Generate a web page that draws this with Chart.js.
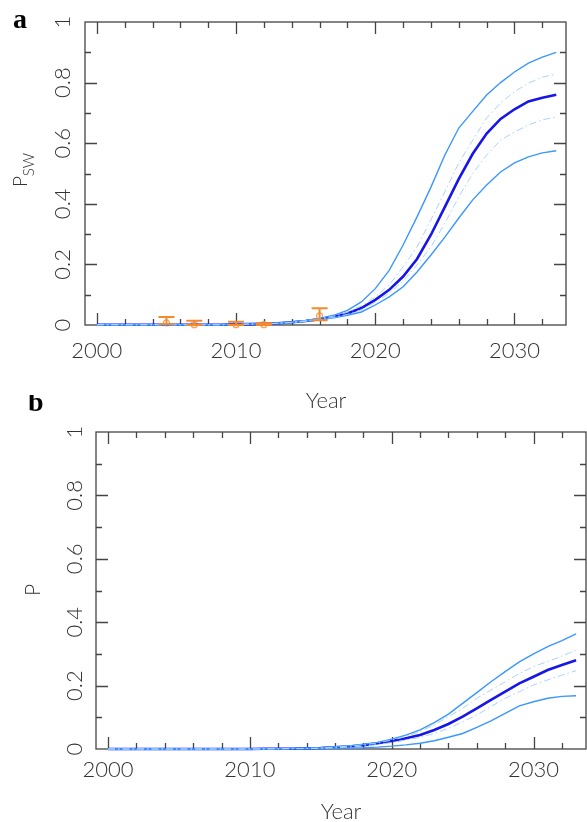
<!DOCTYPE html>
<html>
<head>
<meta charset="utf-8">
<script src="https://cdn.jsdelivr.net/npm/chart.js@4.4.1/dist/chart.umd.min.js"></script>
<style>
  body { margin: 0; background: #fff; }
  .wrap { position: relative; width: 587px; height: 822px; }
  canvas { position: absolute; left: 0; }
  #chartA { top: 0; }
  #chartB { top: 395px; }
</style>
</head>
<body>
<div class="wrap">
  <canvas id="chartA" width="587" height="415"></canvas>
  <canvas id="chartB" width="587" height="427"></canvas>
</div>
<script>
// years used by all model curves
const years = [2000, 2001, 2002, 2003, 2004, 2005, 2006, 2007, 2008, 2009,
  2010, 2011, 2012, 2013, 2014, 2015, 2016, 2017, 2018, 2019,
  2020, 2021, 2022, 2023, 2024, 2025, 2026, 2027, 2028, 2029,
  2030, 2031, 2032, 2033];

// panel a: P_SW
const aMedian = [0.001, 0.001, 0.001, 0.001, 0.001, 0.001, 0.001, 0.001, 0.001, 0.001,
  0.002, 0.003, 0.004, 0.006, 0.009, 0.013, 0.019, 0.027, 0.038, 0.056,
  0.083, 0.116, 0.16, 0.218, 0.298, 0.39, 0.482, 0.565, 0.632, 0.68,
  0.712, 0.738, 0.75, 0.76];
const aUpper = [0.001, 0.001, 0.001, 0.001, 0.001, 0.001, 0.001, 0.001, 0.001, 0.001,
  0.002, 0.003, 0.005, 0.007, 0.01, 0.015, 0.022, 0.032, 0.048, 0.076,
  0.12, 0.18, 0.264, 0.357, 0.455, 0.561, 0.65, 0.705, 0.759, 0.8,
  0.835, 0.864, 0.884, 0.9];
const aLower = [0.001, 0.001, 0.001, 0.001, 0.001, 0.001, 0.001, 0.001, 0.001, 0.001,
  0.002, 0.003, 0.004, 0.005, 0.008, 0.012, 0.017, 0.024, 0.032, 0.043,
  0.066, 0.093, 0.126, 0.175, 0.231, 0.29, 0.353, 0.413, 0.462, 0.505,
  0.535, 0.555, 0.568, 0.575];
const aUpperInner = [0.001, 0.001, 0.001, 0.001, 0.001, 0.001, 0.001, 0.001, 0.001, 0.001,
  0.002, 0.003, 0.004, 0.006, 0.009, 0.014, 0.02, 0.029, 0.042, 0.063,
  0.093, 0.132, 0.192, 0.258, 0.347, 0.44, 0.535, 0.61, 0.683, 0.733,
  0.77, 0.798, 0.818, 0.828];
const aLowerInner = [0.001, 0.001, 0.001, 0.001, 0.001, 0.001, 0.001, 0.001, 0.001, 0.001,
  0.002, 0.003, 0.004, 0.005, 0.008, 0.012, 0.018, 0.025, 0.035, 0.05,
  0.075, 0.105, 0.145, 0.198, 0.258, 0.336, 0.423, 0.5, 0.561, 0.61,
  0.637, 0.66, 0.677, 0.687];

// observed estimates with error bars (panel a)
const obsYears = [2005, 2007, 2010, 2012, 2016];
const obsValue = [0.007, 0.001, 0.001, 0.001, 0.03];
const obsLow = [0.003, 0.0, 0.0, 0.0, 0.016];
const obsHigh = [0.026, 0.014, 0.011, 0.006, 0.055];

// panel b: P
const bMedian = [0, 0, 0, 0, 0, 0, 0, 0, 0, 0,
  0, 0.001, 0.001, 0.001, 0.002, 0.003, 0.005, 0.008, 0.012, 0.018,
  0.025, 0.034, 0.044, 0.06, 0.079, 0.102, 0.128, 0.155, 0.181, 0.207,
  0.228, 0.249, 0.265, 0.28];
const bUpper = [0, 0, 0, 0, 0, 0, 0, 0, 0, 0,
  0, 0.001, 0.001, 0.002, 0.003, 0.004, 0.007, 0.01, 0.015, 0.021,
  0.031, 0.044, 0.06, 0.083, 0.11, 0.144, 0.178, 0.212, 0.244, 0.275,
  0.3, 0.323, 0.342, 0.363];
const bLower = [0, 0, 0, 0, 0, 0, 0, 0, 0, 0,
  0, 0, 0, 0.001, 0.001, 0.001, 0.002, 0.003, 0.004, 0.006,
  0.009, 0.013, 0.018, 0.026, 0.037, 0.049, 0.068, 0.089, 0.112, 0.136,
  0.149, 0.16, 0.166, 0.168];
const bUpperInner = [0, 0, 0, 0, 0, 0, 0, 0, 0, 0,
  0, 0.001, 0.001, 0.001, 0.002, 0.003, 0.006, 0.009, 0.013, 0.019,
  0.028, 0.039, 0.055, 0.076, 0.102, 0.128, 0.16, 0.186, 0.212, 0.238,
  0.26, 0.276, 0.293, 0.312];
const bLowerInner = [0, 0, 0, 0, 0, 0, 0, 0, 0, 0,
  0, 0, 0.001, 0.001, 0.001, 0.002, 0.004, 0.006, 0.009, 0.014,
  0.02, 0.028, 0.037, 0.049, 0.065, 0.086, 0.107, 0.134, 0.16, 0.181,
  0.202, 0.218, 0.233, 0.247];

// axis ticks
const xTickLabels = [2000, 2010, 2020, 2030];
const yTickValues = [0, 0.2, 0.4, 0.6, 0.8, 1];
const yTickLabels = ['0', '0.2', '0.4', '0.6', '0.8', '1'];

const LABEL_FONT = '300 22px Lato, "DejaVu Sans", sans-serif';
const TEXT_COLOR = '#333';

function pts(values) {
  return years.map((y, i) => ({ x: y, y: values[i] }));
}

function curve(values, color, width, dash) {
  return {
    type: 'line',
    data: pts(values),
    borderColor: color,
    borderWidth: width,
    borderDash: dash || [],
    pointRadius: 0,
    tension: 0,
    fill: false,
    clip: false
  };
}

// frame, inward ticks and all axis text
const axesPlugin = {
  id: 'axesPlugin',
  beforeDatasetsDraw(chart, args, opts) {
    const ctx = chart.ctx;
    const a = chart.chartArea;
    const xs = chart.scales.x;
    const ys = chart.scales.y;
    ctx.save();
    ctx.strokeStyle = '#444';
    ctx.lineWidth = 1.3;
    ctx.strokeRect(a.left, a.top, a.right - a.left, a.bottom - a.top);
    ctx.beginPath();
    for (let yr = 2000; yr <= 2032; yr += 2) {
      const px = Math.round(xs.getPixelForValue(yr)) + 0.5;
      const len = yr % 10 === 0 ? 12 : 6;
      ctx.moveTo(px, a.bottom); ctx.lineTo(px, a.bottom - len);
      ctx.moveTo(px, a.top); ctx.lineTo(px, a.top + len);
    }
    for (let i = 1; i < 10; i++) {
      const py = Math.round(ys.getPixelForValue(i / 10)) + 0.5;
      const len = i % 2 === 0 ? 12 : 6;
      ctx.moveTo(a.left, py); ctx.lineTo(a.left + len, py);
      ctx.moveTo(a.right, py); ctx.lineTo(a.right - len, py);
    }
    ctx.stroke();

    ctx.fillStyle = TEXT_COLOR;
    ctx.font = LABEL_FONT;
    ctx.textAlign = 'center';
    ctx.textBaseline = 'alphabetic';
    xTickLabels.forEach(v => {
      ctx.fillText(String(v), xs.getPixelForValue(v), opts.xLabelBase);
    });
    yTickValues.forEach((v, i) => {
      ctx.save();
      ctx.translate(opts.yLabelBase, ys.getPixelForValue(v));
      ctx.rotate(-Math.PI / 2);
      ctx.fillText(yTickLabels[i], 0, 0);
      ctx.restore();
    });
    // x title
    ctx.fillText('Year', opts.xTitleX, opts.xTitleBase);
    // y title (with optional subscript)
    ctx.save();
    ctx.translate(opts.yTitleBase, opts.yTitleY);
    ctx.rotate(-Math.PI / 2);
    ctx.font = '300 ' + opts.yTitleSize + 'px Lato, "DejaVu Sans", sans-serif';
    const mainW = ctx.measureText(opts.yTitle).width;
    let subW = 0;
    const subFont = '300 15px Lato, "DejaVu Sans", sans-serif';
    if (opts.yTitleSub) {
      ctx.font = subFont;
      subW = ctx.measureText(opts.yTitleSub).width;
    }
    const start = -(mainW + subW) / 2;
    ctx.textAlign = 'left';
    ctx.font = '300 ' + opts.yTitleSize + 'px Lato, "DejaVu Sans", sans-serif';
    ctx.fillText(opts.yTitle, start, 0);
    if (opts.yTitleSub) {
      ctx.font = subFont;
      ctx.fillText(opts.yTitleSub, start + mainW, 7);
    }
    ctx.restore();
    // panel letter
    ctx.fillStyle = '#000';
    ctx.font = 'bold 28px "Liberation Serif", "DejaVu Serif", serif';
    ctx.textAlign = 'left';
    ctx.fillText(opts.letter, opts.letterX, opts.letterBase);
    ctx.restore();
  }
};

// orange error bars for observed points
const errorBarPlugin = {
  id: 'errorBars',
  afterDatasetsDraw(chart, args, opts) {
    if (!opts.show) return;
    const ctx = chart.ctx;
    const xs = chart.scales.x;
    const ys = chart.scales.y;
    ctx.save();
    ctx.strokeStyle = '#f58a2c';
    ctx.lineWidth = 2;
    ctx.beginPath();
    obsYears.forEach((yr, i) => {
      const px = xs.getPixelForValue(yr);
      const lo = ys.getPixelForValue(obsLow[i]);
      const hi = ys.getPixelForValue(obsHigh[i]);
      ctx.moveTo(px, lo); ctx.lineTo(px, hi);
      ctx.moveTo(px - 8, lo); ctx.lineTo(px + 8, lo);
      ctx.moveTo(px - 8, hi); ctx.lineTo(px + 8, hi);
    });
    ctx.stroke();
    ctx.restore();
  }
};

function makePanel(id, series, padding, axisOpts, showObs) {
  const datasets = [
    curve(series.upperInner, '#a8d2ff', 1, [7, 3, 1.5, 3]),
    curve(series.lowerInner, '#a8d2ff', 1, [7, 3, 1.5, 3]),
    curve(series.upper, '#3a97ff', 1.4),
    curve(series.lower, '#3a97ff', 1.4),
    curve(series.median, '#1616e8', 2.6)
  ];
  if (showObs) {
    datasets.push({
      type: 'scatter',
      data: obsYears.map((y, i) => ({ x: y, y: obsValue[i] })),
      pointStyle: 'circle',
      pointRadius: 3,
      borderColor: '#f8a060',
      backgroundColor: 'rgba(0,0,0,0)',
      borderWidth: 1.2,
      clip: false
    });
  }
  return new Chart(document.getElementById(id), {
    type: 'line',
    data: { datasets: datasets },
    options: {
      responsive: false,
      animation: false,
      layout: { padding: padding },
      plugins: {
        legend: { display: false },
        tooltip: { enabled: false },
        axesPlugin: axisOpts,
        errorBars: { show: showObs }
      },
      scales: {
        x: { type: 'linear', min: 1999.15, max: 2033.7, display: false },
        y: { type: 'linear', min: 0, max: 1, display: false }
      }
    },
    plugins: [axesPlugin, errorBarPlugin]
  });
}

makePanel('chartA',
  { median: aMedian, upper: aUpper, lower: aLower, upperInner: aUpperInner, lowerInner: aLowerInner },
  { left: 85, right: 21, top: 22, bottom: 90 },
  {
    xLabelBase: 358, yLabelBase: 70, xTitleX: 326, xTitleBase: 408,
    yTitle: 'P', yTitleSub: 'SW', yTitleSize: 19, yTitleBase: 27, yTitleY: 170,
    letter: 'a', letterX: 13, letterBase: 28
  },
  true);

makePanel('chartB',
  { median: bMedian, upper: bUpper, lower: bLower, upperInner: bUpperInner, lowerInner: bLowerInner },
  { left: 96, right: 1, top: 37, bottom: 73 },
  {
    xLabelBase: 382, yLabelBase: 82, xTitleX: 341, xTitleBase: 424,
    yTitle: 'P', yTitleSub: '', yTitleSize: 21, yTitleBase: 40, yTitleY: 195,
    letter: 'b', letterX: 28, letterBase: 16
  },
  false);
</script>
</body>
</html>
